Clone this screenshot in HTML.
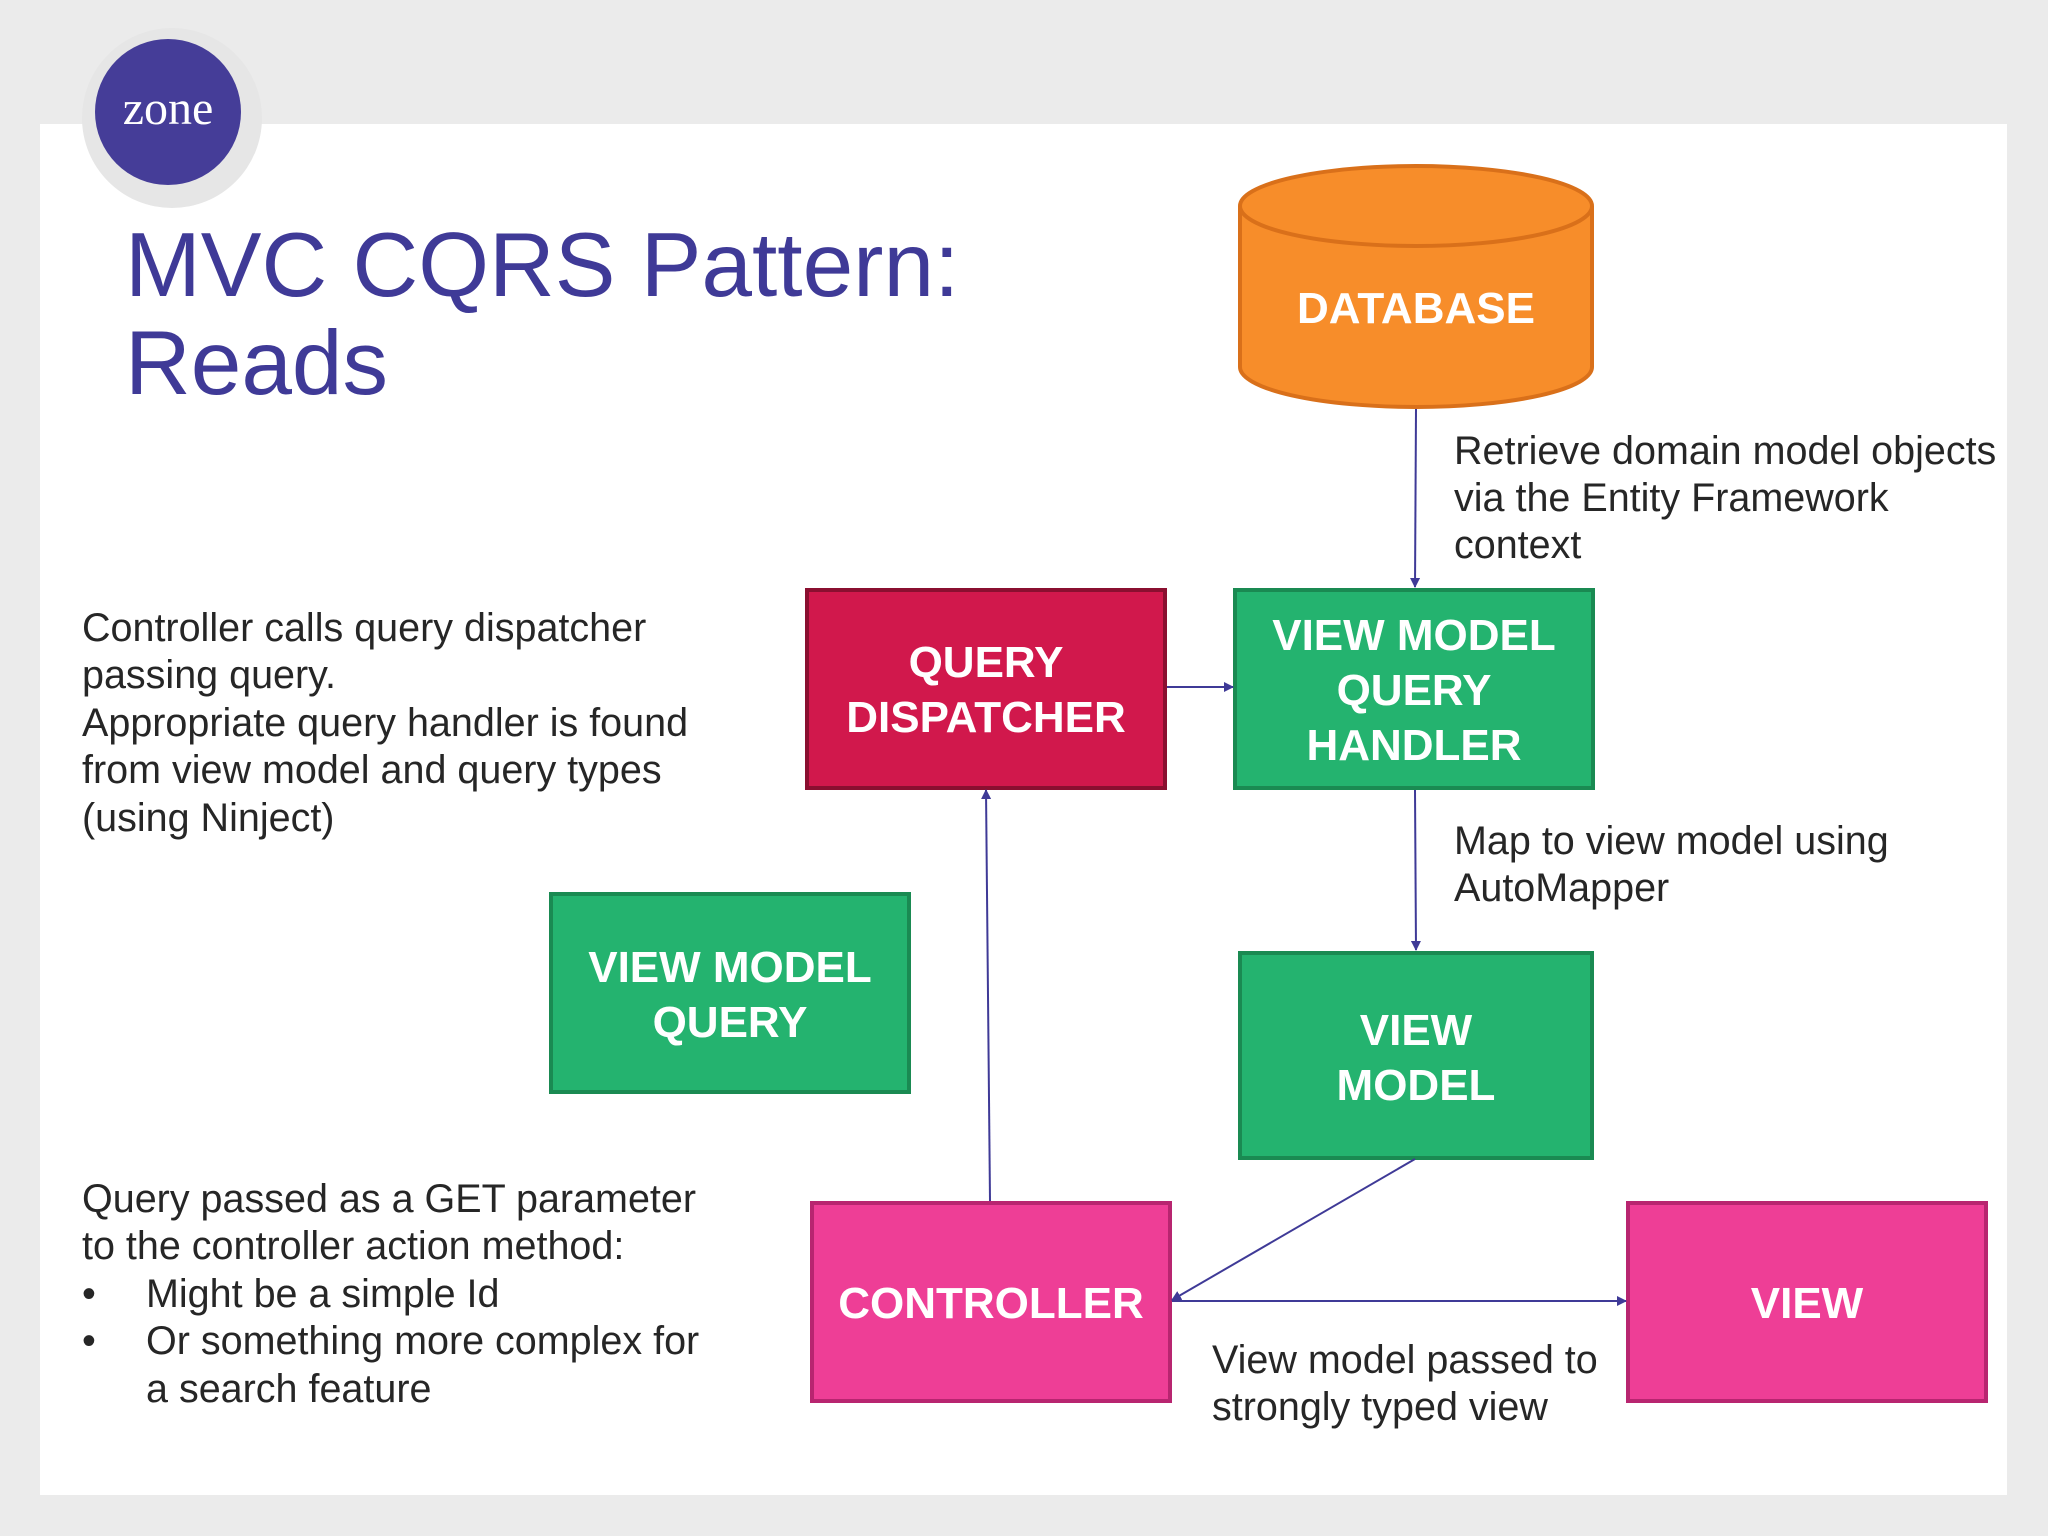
<!DOCTYPE html>
<html><head><meta charset="utf-8"><style>
html,body{margin:0;padding:0;background:#ebebeb;}
svg{display:block;}
text{font-family:"Liberation Sans",sans-serif;}
.b{font-weight:bold;fill:#fff;font-size:44px;text-anchor:middle;}
.t{font-size:39.5px;fill:#262626;}
</style></head><body>
<svg width="2048" height="1536" viewBox="0 0 2048 1536" xmlns="http://www.w3.org/2000/svg">
<defs><marker id="a" markerWidth="10" markerHeight="10" refX="9" refY="5" orient="auto" markerUnits="userSpaceOnUse"><path d="M0,0 L10,5 L0,10 z" fill="#3f3a97"/></marker></defs>
<rect width="2048" height="1536" fill="#ebebeb"/>
<rect x="40" y="124" width="1967" height="1371" fill="#fff"/>
<circle cx="172" cy="118" r="90" fill="#e6e6e6"/>
<circle cx="168" cy="112" r="73" fill="#453d98"/>
<text x="168" y="124" text-anchor="middle" style="font-family:'Liberation Serif',serif" font-size="48" fill="#fff">zone</text>
<text x="125" y="296" font-size="91" fill="#3f3a97">MVC CQRS Pattern:</text>
<text x="125" y="394" font-size="91" fill="#3f3a97">Reads</text>
<path d="M1240,206 L1240,367 A176,40 0 0 0 1592,367 L1592,206" fill="#f78d2a" stroke="#d9701a" stroke-width="4"/>
<ellipse cx="1416" cy="206" rx="176" ry="40" fill="#f78d2a" stroke="#d9701a" stroke-width="4"/>
<text class="b" x="1416" y="323">DATABASE</text>
<rect x="807" y="590" width="358" height="198" fill="#d1184c" stroke="#8a0f30" stroke-width="4"/>
<text class="b" x="986" y="677">QUERY</text><text class="b" x="986" y="732">DISPATCHER</text>
<rect x="1235" y="590" width="358" height="198" fill="#24b36f" stroke="#1a8a52" stroke-width="4"/>
<text class="b" x="1414" y="650">VIEW MODEL</text><text class="b" x="1414" y="705">QUERY</text><text class="b" x="1414" y="760">HANDLER</text>
<rect x="551" y="894" width="358" height="198" fill="#24b36f" stroke="#1a8a52" stroke-width="4"/>
<text class="b" x="730" y="982">VIEW MODEL</text><text class="b" x="730" y="1037">QUERY</text>
<rect x="1240" y="953" width="352" height="205" fill="#24b36f" stroke="#1a8a52" stroke-width="4"/>
<text class="b" x="1416" y="1045">VIEW</text><text class="b" x="1416" y="1100">MODEL</text>
<rect x="812" y="1203" width="358" height="198" fill="#ee3e96" stroke="#b82570" stroke-width="4"/>
<text class="b" x="991" y="1318">CONTROLLER</text>
<rect x="1628" y="1203" width="358" height="198" fill="#ee3e96" stroke="#b82570" stroke-width="4"/>
<text class="b" x="1807" y="1318">VIEW</text>
<g stroke="#3f3a97" stroke-width="2" fill="none" marker-end="url(#a)">
<line x1="1416" y1="409" x2="1415" y2="587"/>
<line x1="1167" y1="687" x2="1233" y2="687"/>
<line x1="1415" y1="790" x2="1416" y2="950"/>
<line x1="990" y1="1201" x2="986" y2="790"/>
<line x1="1415" y1="1159" x2="1172" y2="1300"/>
<line x1="1172" y1="1301" x2="1626" y2="1301"/>
</g>
<g>
<text class="t" x="1454" y="464">Retrieve domain model objects</text>
<text class="t" x="1454" y="511">via the Entity Framework</text>
<text class="t" x="1454" y="558">context</text>
<text class="t" x="82" y="641">Controller calls query dispatcher</text>
<text class="t" x="82" y="688">passing query.</text>
<text class="t" x="82" y="736">Appropriate query handler is found</text>
<text class="t" x="82" y="783">from view model and query types</text>
<text class="t" x="82" y="831">(using Ninject)</text>
<text class="t" x="1454" y="854">Map to view model using</text>
<text class="t" x="1454" y="901">AutoMapper</text>
<text class="t" x="82" y="1212">Query passed as a GET parameter</text>
<text class="t" x="82" y="1259">to the controller action method:</text>
<text class="t" x="82" y="1307">•</text><text class="t" x="146" y="1307">Might be a simple Id</text>
<text class="t" x="82" y="1354">•</text><text class="t" x="146" y="1354">Or something more complex for</text>
<text class="t" x="146" y="1402">a search feature</text>
<text class="t" x="1212" y="1373">View model passed to</text>
<text class="t" x="1212" y="1420">strongly typed view</text>
</g>
</svg>
</body></html>
